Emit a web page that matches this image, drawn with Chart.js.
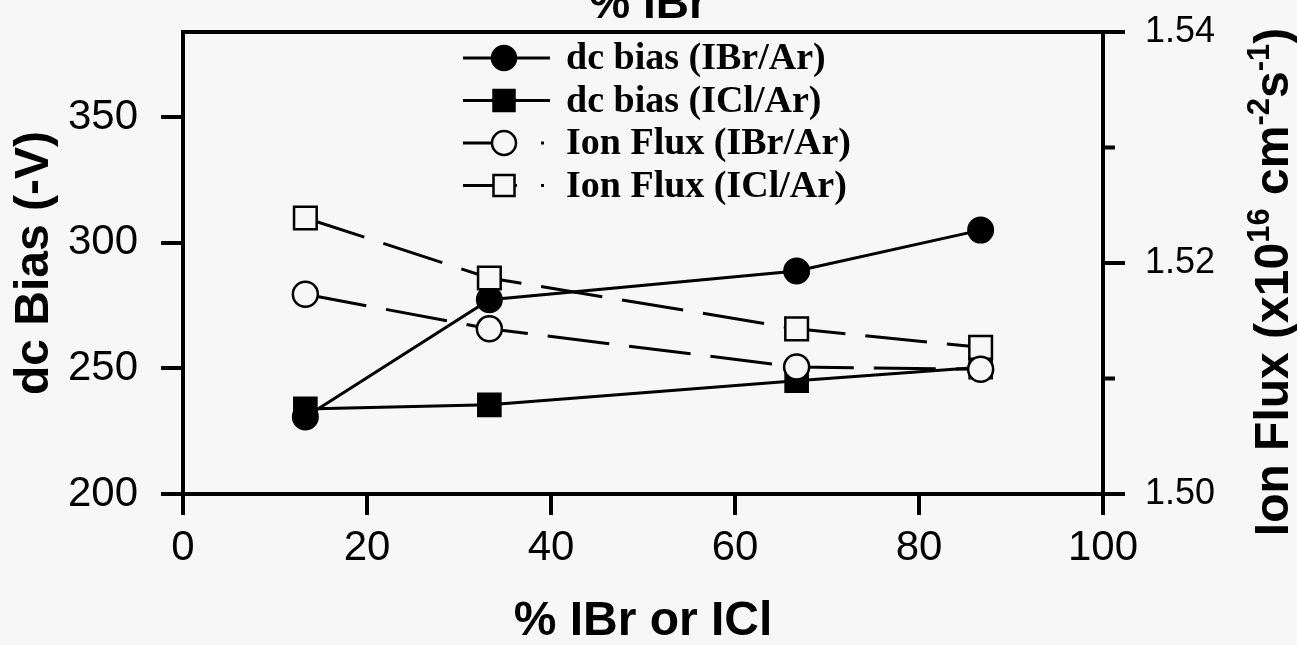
<!DOCTYPE html>
<html>
<head>
<meta charset="utf-8">
<script src="https://cdn.jsdelivr.net/npm/chart.js@4/dist/chart.umd.min.js"></script>
<style>
  html, body { margin: 0; padding: 0; background: #f7f7f7; overflow: hidden; }
  canvas { display: block; }
</style>
</head>
<body>
<canvas id="c" width="1297" height="645"></canvas>
<script>
// ---- data ----
const pctX = [13.3, 33.3, 66.7, 86.7];
const dcBiasIBr = [230.7, 277.4, 288.8, 305.1];
const dcBiasICl = [233.9, 235.5, 245.1, 250.5];
const ionFluxIBr = [1.5173, 1.5143, 1.5110, 1.5108];
const ionFluxICl = [1.5239, 1.5187, 1.5143, 1.5127];
const xTicks = [0, 20, 40, 60, 80, 100];
const leftTicks = [200, 250, 300, 350];
const rightTicks = [1.50, 1.51, 1.52, 1.53, 1.54];
const rightLabelled = [1.50, 1.52, 1.54];
const seriesLabels = ['dc bias (IBr/Ar)', 'dc bias (ICl/Ar)', 'Ion Flux (IBr/Ar)', 'Ion Flux (ICl/Ar)'];

const SANS = '"Liberation Sans", Arial, sans-serif';
const SERIF = '"Liberation Serif", "Times New Roman", serif';
const DASH = [62, 20];

function pts(ys) { return pctX.map((x, i) => ({ x: x, y: ys[i] })); }

const datasets = [
  { label: seriesLabels[0], data: pts(dcBiasIBr), yAxisID: 'y', order: 2,
    borderColor: '#000', borderWidth: 3, backgroundColor: '#000',
    pointStyle: 'circle', pointRadius: 12.5, pointBorderWidth: 2, pointBackgroundColor: '#000', pointBorderColor: '#000' },
  { label: seriesLabels[1], data: pts(dcBiasICl), yAxisID: 'y', order: 3,
    borderColor: '#000', borderWidth: 3, backgroundColor: '#000',
    pointStyle: 'rect', pointRadius: 16, pointBorderWidth: 2, pointBackgroundColor: '#000', pointBorderColor: '#000' },
  { label: seriesLabels[2], data: pts(ionFluxIBr), yAxisID: 'y2', order: 0,
    borderColor: '#000', borderWidth: 3, borderDash: DASH, backgroundColor: '#fff',
    pointStyle: 'circle', pointRadius: 12.5, pointBorderWidth: 2.5, pointBackgroundColor: '#f7f7f7', pointBorderColor: '#000' },
  { label: seriesLabels[3], data: pts(ionFluxICl), yAxisID: 'y2', order: 1,
    borderColor: '#000', borderWidth: 3, borderDash: DASH, backgroundColor: '#fff',
    pointStyle: 'rect', pointRadius: 16, pointBorderWidth: 2.5, pointBackgroundColor: '#f7f7f7', pointBorderColor: '#000' }
];

function noPad(s) { s.paddingTop = 0; s.paddingBottom = 0; s.paddingLeft = 0; s.paddingRight = 0; }

const deco = {
  id: 'deco',
  beforeDraw(chart) {
    const ctx = chart.ctx;
    ctx.save();
    ctx.fillStyle = '#f7f7f7';
    ctx.fillRect(0, 0, chart.width, chart.height);
    ctx.restore();
  },
  afterDraw(chart) {
    const ctx = chart.ctx;
    const ca = chart.chartArea;
    const y2 = chart.scales.y2;
    ctx.save();
    ctx.strokeStyle = '#000';
    ctx.fillStyle = '#000';
    // top frame line
    ctx.lineWidth = 4;
    ctx.beginPath();
    ctx.moveTo(ca.left - 2, ca.top);
    ctx.lineTo(ca.right, ca.top);
    ctx.stroke();
    // minor ticks on right axis
    rightTicks.filter(v => !rightLabelled.includes(v)).forEach(v => {
      const yy = y2.getPixelForValue(v);
      ctx.beginPath();
      ctx.moveTo(ca.right, yy);
      ctx.lineTo(ca.right + 12, yy);
      ctx.stroke();
    });
    // top (clipped) axis title
    ctx.font = 'bold 46px ' + SANS;
    ctx.textAlign = 'center';
    ctx.textBaseline = 'alphabetic';
    ctx.fillText('% IBr', (ca.left + ca.right) / 2 + 5, 18);

    // right axis title with superscripts, rotated
    const parts = [
      ['Ion Flux (x10', false], ['16', true], [' cm', false], ['-2', true], ['s', false], ['-1', true], [')', false]
    ];
    const mainF = 'bold 48px ' + SANS, supF = 'bold 31px ' + SANS;
    let total = 0;
    parts.forEach(p => { ctx.font = p[1] ? supF : mainF; total += ctx.measureText(p[0]).width; });
    ctx.translate(1288, 282);
    ctx.rotate(-Math.PI / 2);
    ctx.textAlign = 'left';
    let x = -total / 2;
    parts.forEach(p => {
      ctx.font = p[1] ? supF : mainF;
      ctx.fillText(p[0], x, p[1] ? -19 : 0);
      x += ctx.measureText(p[0]).width;
    });
    ctx.restore();

    // legend inside plot
    ctx.save();
    const rows = [58, 100.5, 143, 185.5];
    chart.data.datasets.forEach((ds, i) => {
      const yy = rows[i];
      ctx.strokeStyle = '#000';
      ctx.lineWidth = 3;
      ctx.setLineDash(ds.borderDash ? [54, 24, 3, 20] : []);
      ctx.beginPath();
      ctx.moveTo(463, yy);
      ctx.lineTo(550, yy);
      ctx.stroke();
      ctx.setLineDash([]);
      ctx.fillStyle = ds.pointBackgroundColor;
      ctx.lineWidth = 2.5;
      ctx.beginPath();
      if (ds.pointStyle === 'circle') {
        ctx.arc(504, yy, 12, 0, Math.PI * 2);
      } else {
        ctx.rect(504 - 10.5, yy - 10.5, 21, 21);
      }
      ctx.fill();
      ctx.stroke();
      ctx.fillStyle = '#000';
      ctx.font = 'bold 38px ' + SERIF;
      ctx.textAlign = 'left';
      ctx.textBaseline = 'alphabetic';
      ctx.fillText(ds.label, 566, yy + 11);
    });
    ctx.restore();
  }
};

Chart.defaults.color = '#000';

new Chart(document.getElementById('c'), {
  type: 'line',
  data: { datasets: datasets },
  plugins: [deco],
  options: {
    responsive: false,
    animation: false,
    devicePixelRatio: 1,
    layout: { padding: { top: 32, left: 0, right: 0, bottom: 0 } },
    plugins: { legend: { display: false }, tooltip: { enabled: false } },
    scales: {
      x: {
        type: 'linear', position: 'bottom', min: 0, max: 100,
        afterBuildTicks: s => { s.ticks = xTicks.map(v => ({ value: v })); },
        afterFit: s => { s.height = 151; noPad(s); },
        grid: { drawOnChartArea: false, color: '#000', tickLength: 21, tickWidth: 4, lineWidth: 4 },
        border: { color: '#000', width: 4 },
        ticks: { autoSkip: false, maxRotation: 0, padding: 8, color: '#000', font: { family: SANS, size: 42 } },
        title: { display: true, text: '% IBr or ICl', color: '#000', font: { family: SANS, size: 48, weight: 'bold' }, padding: { top: 0, bottom: -6 } }
      },
      y: {
        type: 'linear', position: 'left', min: 200, max: 384,
        afterBuildTicks: s => { s.ticks = leftTicks.map(v => ({ value: v })); },
        afterFit: s => { s.width = 183; noPad(s); },
        grid: { drawOnChartArea: false, color: '#000', tickLength: 22, tickWidth: 4, lineWidth: 4 },
        border: { color: '#000', width: 4 },
        ticks: { padding: 23, color: '#000', font: { family: SANS, size: 42 } },
        title: { display: true, text: 'dc Bias (-V)', color: '#000', font: { family: SANS, size: 48, weight: 'bold' }, padding: { top: 6, bottom: 0 } }
      },
      y2: {
        type: 'linear', position: 'right', min: 1.50, max: 1.54,
        afterBuildTicks: s => { s.ticks = rightTicks.map(v => ({ value: v })); },
        afterFit: s => { s.width = 194; noPad(s); },
        grid: {
          drawOnChartArea: false, tickLength: 22, tickWidth: 4, lineWidth: 4,
          tickColor: c => (c.tick && rightLabelled.some(v => Math.abs(v - c.tick.value) < 1e-6)) ? '#000' : 'rgba(0,0,0,0)'
        },
        border: { color: '#000', width: 4 },
        ticks: {
          padding: 20, color: '#000', font: { family: SANS, size: 36 },
          callback: v => rightLabelled.some(r => Math.abs(r - v) < 1e-6) ? v.toFixed(2) : ''
        },
        title: { display: false }
      }
    }
  }
});
</script>
</body>
</html>
